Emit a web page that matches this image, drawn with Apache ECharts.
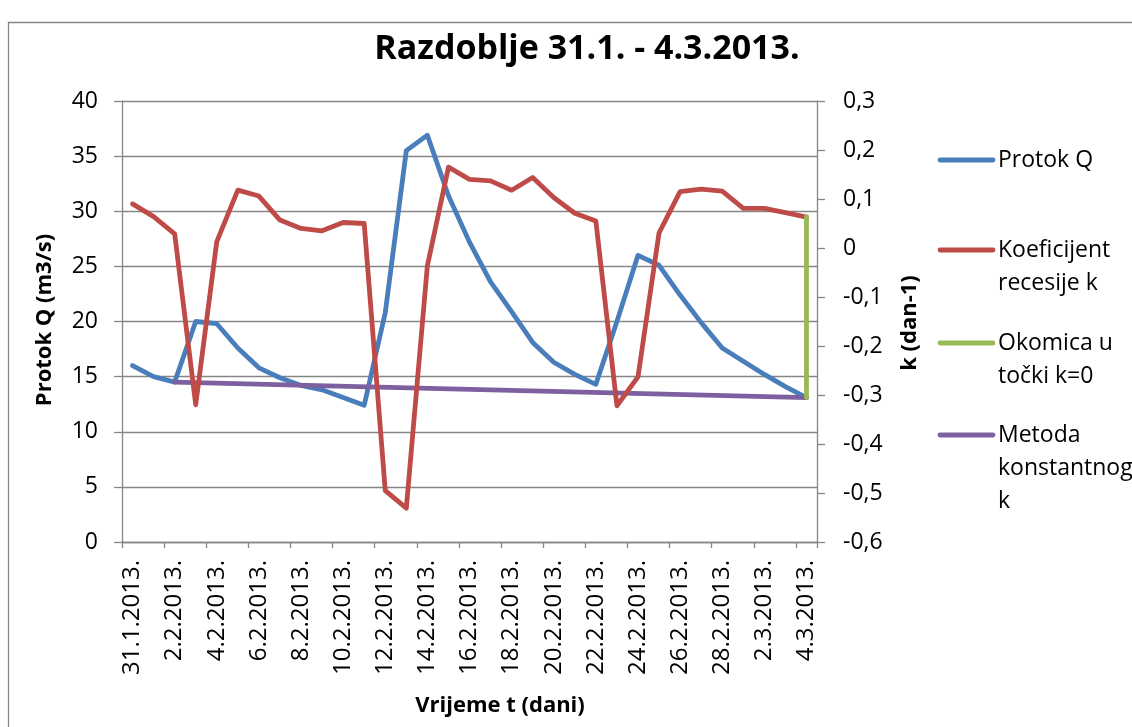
<!DOCTYPE html>
<html>
<head>
<meta charset="utf-8">
<script src="https://cdn.jsdelivr.net/npm/echarts@6/dist/echarts.min.js"></script>
<style>
  html, body { margin: 0; padding: 0; background: #fff; }
  #chart { width: 1132px; height: 727px; }
</style>
</head>
<body>
<div id="chart"></div>
<script>
// Days of the recession period
const categories = [
  '31.1.2013.', '1.2.2013.', '2.2.2013.', '3.2.2013.', '4.2.2013.', '5.2.2013.',
  '6.2.2013.', '7.2.2013.', '8.2.2013.', '9.2.2013.', '10.2.2013.', '11.2.2013.',
  '12.2.2013.', '13.2.2013.', '14.2.2013.', '15.2.2013.', '16.2.2013.', '17.2.2013.',
  '18.2.2013.', '19.2.2013.', '20.2.2013.', '21.2.2013.', '22.2.2013.', '23.2.2013.',
  '24.2.2013.', '25.2.2013.', '26.2.2013.', '27.2.2013.', '28.2.2013.', '1.3.2013.',
  '2.3.2013.', '3.3.2013.', '4.3.2013.'
];

// Discharge Q (m3/s), left axis
const protokQ = [
  16.0, 15.0, 14.5, 20.0, 19.8, 17.6, 15.8, 14.9, 14.2, 13.8, 13.1, 12.4,
  20.8, 35.5, 36.9, 31.4, 27.2, 23.6, 20.9, 18.1, 16.3, 15.2, 14.3, 20.0,
  26.0, 25.1, 22.4, 19.9, 17.6, 16.4, 15.2, 14.1, 13.1
];

// Recession coefficient k (dan-1), right axis
const koefK = [
  0.090, 0.064, 0.029, -0.320, 0.013, 0.118, 0.106, 0.057, 0.040, 0.035, 0.052, 0.050,
  -0.495, -0.531, -0.036, 0.165, 0.140, 0.137, 0.118, 0.144, 0.103, 0.071, 0.055, -0.322,
  -0.263, 0.031, 0.115, 0.120, 0.116, 0.081, 0.081, 0.072, 0.063
];

// Vertical at the last day: bottom and top, in Q units
const okomicaDay = '4.3.2013.';
const okomicaQ = [13.1, 29.5];

// Constant-k method line: start and end day with Q values
const konstDays = ['2.2.2013.', '4.3.2013.'];
const konstQ = [14.5, 13.1];

// Axis tick settings
const leftAxis = { min: 0, max: 40, step: 5 };
const rightAxis = { min: -0.6, max: 0.3, step: 0.1 };

const seriesNames = ['Protok Q', 'Koeficijent recesije k', 'Okomica u točki k=0', 'Metoda konstantnog k'];
const legendLabels = ['Protok Q', 'Koeficijent\nrecesije k', 'Okomica u\ntočki k=0', 'Metoda\nkonstantnog\nk'];
const colors = ['#4A7EBB', '#BE4B48', '#98B954', '#7D60A0'];

const FONT = 'Open Sans';
const AXIS_GRAY = '#868686';

const chart = echarts.init(document.getElementById('chart'), null, { renderer: 'canvas' });

const lineStyle = (c) => ({ color: c, width: 4.8, cap: 'round', join: 'round' });

function kLabel(v) {
  const r = Math.round(v * 10) / 10;
  if (r === 0) return '0';
  return r.toFixed(1).replace('.', ',');
}

// Legend drawn as graphic items on the right
const legendY = [160, 250, 343, 435];
const legendGraphics = [];
seriesNames.forEach((n, i) => {
  legendGraphics.push({
    type: 'line',
    shape: { x1: 940, y1: legendY[i], x2: 993, y2: legendY[i] },
    style: { stroke: colors[i], lineWidth: 4.8, lineCap: 'round' }
  });
  legendGraphics.push({
    type: 'text',
    x: 998, y: legendY[i] - 16,
    style: {
      text: legendLabels[i], fill: '#000', font: '23px "' + FONT + '"',
      lineHeight: 33, verticalAlign: 'top', align: 'left'
    }
  });
});

const option = {
  animation: false,
  backgroundColor: '#fff',
  textStyle: { fontFamily: FONT },
  grid: { left: 122, right: 315, top: 101, bottom: 185, containLabel: false },
  xAxis: {
    type: 'category',
    data: categories,
    boundaryGap: true,
    axisLine: { show: true, lineStyle: { color: AXIS_GRAY, width: 1.3 } },
    axisTick: { show: true, interval: 1, length: 6, lineStyle: { color: AXIS_GRAY, width: 1.3 } },
    axisLabel: { interval: 1, rotate: 90, fontSize: 24, color: '#000', margin: 18, fontFamily: FONT },
    splitLine: { show: false }
  },
  yAxis: [
    {
      type: 'value', position: 'left',
      min: leftAxis.min, max: leftAxis.max, interval: leftAxis.step,
      axisLine: { show: true, lineStyle: { color: AXIS_GRAY, width: 1.3 } },
      axisTick: { show: true, length: 8, lineStyle: { color: AXIS_GRAY, width: 1.3 } },
      axisLabel: { fontSize: 23, color: '#000', margin: 24, fontFamily: FONT },
      splitLine: { show: true, lineStyle: { color: AXIS_GRAY, width: 1.3 } }
    },
    {
      type: 'value', position: 'right',
      min: rightAxis.min, max: rightAxis.max, interval: rightAxis.step,
      axisLine: { show: true, lineStyle: { color: AXIS_GRAY, width: 1.3 } },
      axisTick: { show: true, length: 8, lineStyle: { color: AXIS_GRAY, width: 1.3 } },
      axisLabel: { fontSize: 23, color: '#000', margin: 26, fontFamily: FONT, formatter: kLabel },
      splitLine: { show: false }
    }
  ],
  series: [
    {
      name: seriesNames[0], type: 'line', yAxisIndex: 0, data: protokQ,
      showSymbol: false, symbol: 'none', lineStyle: lineStyle(colors[0]), color: colors[0], z: 2
    },
    {
      name: seriesNames[3], type: 'line', yAxisIndex: 0,
      data: konstDays.map((d, i) => [d, konstQ[i]]),
      showSymbol: false, symbol: 'none', lineStyle: lineStyle(colors[3]), color: colors[3], z: 3
    },
    {
      name: seriesNames[1], type: 'line', yAxisIndex: 1, data: koefK,
      showSymbol: false, symbol: 'none', lineStyle: lineStyle(colors[1]), color: colors[1], z: 4
    },
    {
      name: seriesNames[2], type: 'line', yAxisIndex: 0,
      data: okomicaQ.map(v => [okomicaDay, v]),
      showSymbol: false, symbol: 'none', lineStyle: lineStyle(colors[2]), color: colors[2], z: 5
    }
  ],
  graphic: [
    {
      type: 'rect', silent: true, z: -10,
      shape: { x: 8.5, y: 22.5, width: 1200, height: 800 },
      style: { fill: 'none', stroke: AXIS_GRAY, lineWidth: 1.3 }
    },
    {
      type: 'text', x: 587, y: 49,
      style: {
        text: 'Razdoblje 31.1. - 4.3.2013.', fill: '#000',
        font: 'bold 34px "' + FONT + '"', align: 'center', verticalAlign: 'middle'
      }
    },
    {
      type: 'text', x: 500, y: 706,
      style: {
        text: 'Vrijeme t (dani)', fill: '#000',
        font: 'bold 22px "' + FONT + '"', align: 'center', verticalAlign: 'middle'
      }
    },
    {
      type: 'text', x: 45, y: 320, rotation: Math.PI / 2,
      style: {
        text: 'Protok Q (m3/s)', fill: '#000',
        font: 'bold 22px "' + FONT + '"', align: 'center', verticalAlign: 'middle'
      }
    },
    {
      type: 'text', x: 910, y: 323, rotation: Math.PI / 2,
      style: {
        text: 'k (dan-1)', fill: '#000',
        font: 'bold 22px "' + FONT + '"', align: 'center', verticalAlign: 'middle'
      }
    }
  ].concat(legendGraphics)
};

chart.setOption(option);
</script>
</body>
</html>
